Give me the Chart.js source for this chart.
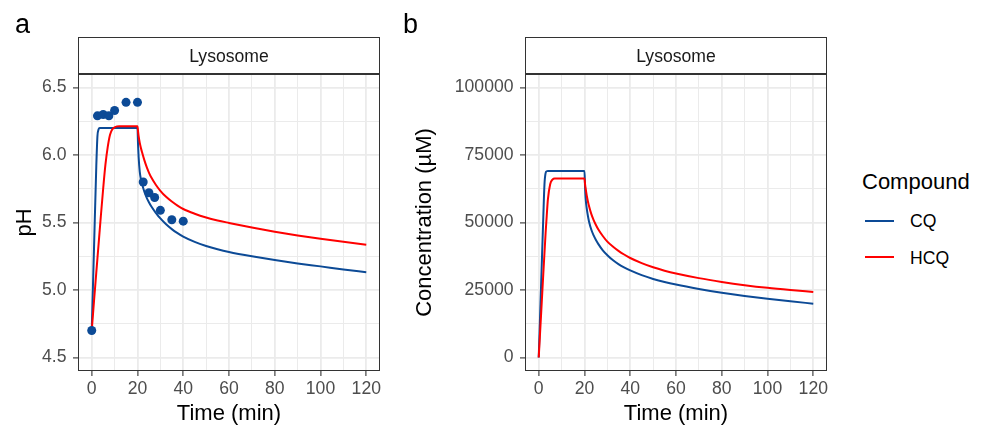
<!DOCTYPE html>
<html><head><meta charset="utf-8">
<script src="https://cdn.jsdelivr.net/npm/chart.js@4.4.1/dist/chart.umd.min.js"></script>
<style>
html,body{margin:0;padding:0;background:#fff;width:988px;height:427px;overflow:hidden;font-family:"Liberation Sans",Arial,sans-serif;}
canvas{position:absolute;top:0;}
.plbl{position:absolute;font-size:27px;line-height:27px;color:#000;}
.ltitle{position:absolute;font-size:22px;line-height:22px;color:#000;white-space:nowrap;}
.ltext{position:absolute;font-size:17.6px;line-height:17.6px;color:#000;white-space:nowrap;}
.lkey{position:absolute;height:2px;width:29px;}
</style></head>
<body>
<canvas id="ca" width="400" height="427" style="left:0px"></canvas>
<canvas id="cb" width="440" height="427" style="left:400px"></canvas>
<div class="plbl" style="left:15px;top:11px">a</div>
<div class="plbl" style="left:403px;top:11px">b</div>
<div id="legend"></div>
<script>
// ---------------- data ----------------
const timePoints = [0,1,2,2.5,3,3.5,4,5,6,7,8,9,10,11,12,15,20,20.25,20.5,21,21.5,22,23,24,25,26,28,30,32.5,35,37.5,40,45,50,55,60,70,80,90,100,110,120];
const phCQ  = [4.70,5.31,5.92,6.14,6.19,6.20,6.20,6.20,6.20,6.20,6.20,6.20,6.20,6.20,6.20,6.20,6.20,6.075,5.985,5.875,5.82,5.785,5.728,5.685,5.65,5.62,5.572,5.53,5.487,5.451,5.421,5.395,5.356,5.326,5.302,5.282,5.250,5.222,5.197,5.175,5.152,5.132];
const phHCQ = [4.70,4.92,5.13,5.235,5.34,5.445,5.55,5.75,5.93,6.06,6.15,6.19,6.205,6.212,6.213,6.213,6.213,6.175,6.14,6.09,6.052,6.02,5.962,5.912,5.87,5.835,5.78,5.735,5.69,5.655,5.625,5.60,5.565,5.537,5.515,5.497,5.463,5.432,5.404,5.379,5.357,5.336];
const concCQ  = [0,26000,52000,64000,68300,69000,69100,69100,69100,69100,69100,69100,69100,69100,69100,69100,69100,63000,59000,55100,52400,50300,47300,45200,43500,42100,39700,37900,36000,34500,33300,32250,30500,29100,27950,27000,25400,24000,22800,21750,20800,19950];
const concHCQ = [0,15500,31000,38500,46000,52500,58500,64200,65900,66300,66300,66300,66300,66300,66300,66300,66300,64200,62600,59900,57800,56000,53100,50900,49100,47500,45000,42900,41000,39400,38050,36850,34950,33400,32150,31100,29400,28000,26800,25800,25000,24300];
const obsTime = [0,2.5,5,7.5,10,15,20,22.5,25,27.5,30,35,40];
const obsPH   = [4.70,6.29,6.30,6.29,6.33,6.39,6.39,5.80,5.72,5.685,5.59,5.52,5.51];
const compounds = ['CQ','HCQ'];
const facetLabel = 'Lysosome';
const legendTitle = 'Compound';
const xTitle = 'Time (min)';
const phTitle = 'pH';
const concTitle = 'Concentration (µM)';
const xTicksMajor = [0,20,40,60,80,100,120];
const xTicksMinor = [10,30,50,70,90,110];
const phTicksMajor = [4.5,5.0,5.5,6.0,6.5];
const phTicksMinor = [4.75,5.25,5.75,6.25];
const concTicksMajor = [0,25000,50000,75000,100000];
const concTicksMinor = [12500,37500,62500,87500];

// ---------------- styles ----------------
const colors = { CQ:'#0C4A96', HCQ:'#FF0000' };
const FONT = '"Liberation Sans", Arial, sans-serif';
Chart.defaults.font.family = FONT;
const TICK_COL = '#4D4D4D';
const GRID_COL = '#EBEBEB';
const X_AXIS_H = 56;

const facetPlugin = {
  id:'facet',
  afterDraw(chart){
    const {ctx, chartArea:{left,right,top,bottom}} = chart;
    ctx.save();
    ctx.strokeStyle = '#333333';
    ctx.lineWidth = 1;
    ctx.strokeRect(left+0.5, top+0.5, right-left-1, bottom-top-1);
    const sTop = top - 37;
    ctx.fillStyle = '#ffffff';
    ctx.fillRect(left, sTop, right-left, 36);
    ctx.strokeRect(left+0.5, sTop+0.5, right-left-1, 36);
    ctx.fillStyle = '#1A1A1A';
    ctx.font = '17.6px ' + FONT;
    ctx.textAlign = 'center';
    ctx.textBaseline = 'alphabetic';
    ctx.fillText(facetLabel, (left+right)/2, sTop + 18 + 6.5);
    ctx.restore();
  }
};

function allTicks(major, minor){ return [...major, ...minor].sort((a,b)=>a-b); }

function axis(major, minor, min, max, title, fmt, isX, width){
  const cfg = {
    type:'linear', min, max,
    afterBuildTicks: s => { s.ticks = allTicks(major, minor).map(v => ({value:v})); },
    ticks:{ autoSkip:false, maxRotation:0, minRotation:0, padding: isX ? 3 : 6.5, color:TICK_COL,
      font:{size:17.6}, callback: v => major.includes(v) ? fmt(v) : '' },
    grid:{ color:GRID_COL, lineWidth: c => (c.tick && major.includes(c.tick.value)) ? 1.8 : 1,
      tickLength:5, tickWidth:1.1,
      tickColor: c => (c.tick && major.includes(c.tick.value)) ? '#333333' : 'rgba(0,0,0,0)' },
    border:{ display:false },
    title:{ display:true, text:title, color:'#000', font:{size:22}, padding: isX ? {top:0,bottom:0} : {top:12,bottom:0} }
  };
  if (isX) cfg.afterFit = s => { s.height = X_AXIS_H; };
  else cfg.afterFit = s => { s.width = width; };
  return cfg;
}

function series(ys){ return timePoints.map((t,i) => ({x:t, y:ys[i]})); }

function lineDs(label, ys){
  return { label, data: series(ys), borderColor: colors[label], backgroundColor: colors[label],
    borderWidth:2, pointRadius:0, pointHoverRadius:0, cubicInterpolationMode:'monotone', fill:false };
}

function makeChart(id, datasets, yAxis, rightPad){
  return new Chart(document.getElementById(id), {
    type:'line',
    data:{ datasets },
    options:{
      responsive:false, animation:false, events:[], devicePixelRatio:1,
      layout:{ padding:{ left:0, right:rightPad, top:74, bottom:0 } },
      plugins:{ legend:{display:false}, tooltip:{enabled:false} },
      scales:{
        x: axis(xTicksMajor, xTicksMinor, -6, 126, xTitle, v => String(v), true),
        y: yAxis
      }
    },
    plugins:[facetPlugin]
  });
}

makeChart('ca', [
  { label:'Observed', data: obsTime.map((t,i)=>({x:t,y:obsPH[i]})), showLine:false,
    pointRadius:4.5, pointHoverRadius:4.5, pointBackgroundColor:colors.CQ, pointBorderWidth:0, borderColor:colors.CQ },
  lineDs('HCQ', phHCQ),
  lineDs('CQ', phCQ)
], axis(phTicksMajor, phTicksMinor, 4.4, 6.6, phTitle, v => v.toFixed(1), false, 78), 20);

makeChart('cb', [
  lineDs('HCQ', concHCQ),
  lineDs('CQ', concCQ)
], axis(concTicksMajor, concTicksMinor, -5000, 105000, concTitle, v => String(v), false, 125), 13);

// ---------------- legend ----------------
const lg = document.getElementById('legend');
const t = document.createElement('div');
t.className = 'ltitle'; t.style.left = '862px'; t.style.top = '171px'; t.textContent = legendTitle;
lg.appendChild(t);
compounds.forEach((c, i) => {
  const cy = 220.7 + i * 36.6;
  const k = document.createElement('div');
  k.className = 'lkey'; k.style.left = '865px'; k.style.top = (cy - 1) + 'px'; k.style.background = colors[c];
  lg.appendChild(k);
  const l = document.createElement('div');
  l.className = 'ltext'; l.style.left = '910px'; l.style.top = (cy - 7.5) + 'px'; l.textContent = c;
  lg.appendChild(l);
});
</script>
</body></html>
